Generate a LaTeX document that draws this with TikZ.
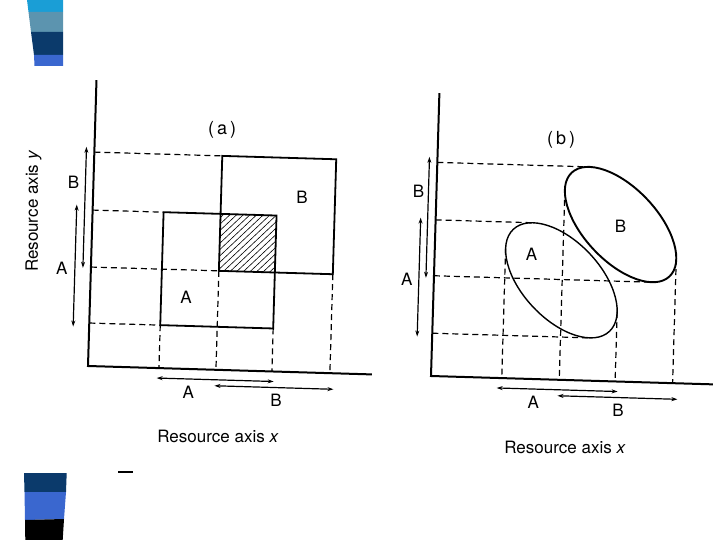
\documentclass[tikz,border=0pt]{standalone}
\usepackage{fontspec}
\setmainfont{TeX Gyre Heros}
\usetikzlibrary{arrows.meta}
\definecolor{barcyan}{HTML}{1A9ED6}
\definecolor{barsteel}{HTML}{5C94AF}
\definecolor{barnavy}{HTML}{0B3A6B}
\definecolor{barblue}{HTML}{3A67CF}
\begin{document}
\begin{tikzpicture}[x=1pt,y=1pt,
  axisline/.style={line width=2pt},
  boxline/.style={line width=1.8pt},
  projline/.style={line width=1.2pt, dash pattern=on 6pt off 4pt},
  spanline/.style={line width=1.2pt, {Stealth[length=6pt,width=4pt]}-{Stealth[length=6pt,width=4pt]}},
  hatchline/.style={line width=0.6pt},
  lbl/.style={font=\fontsize{17}{19}\selectfont, inner sep=0pt},
  ttl/.style={font=\fontsize{18}{20}\selectfont, inner sep=0pt},
  axlbl/.style={font=\fontsize{17}{19}\selectfont, inner sep=0pt},
]
\useasboundingbox (0,0) rectangle (720,-540);

% decorative bars, top left
\fill[barcyan]  (27,0) -- (63,0) -- (63,-12) -- (28.5,-12) -- cycle;
\fill[barsteel] (28.5,-12) -- (63,-12) -- (63,-32) -- (31,-32) -- cycle;
\fill[barnavy]  (31,-32) -- (63,-32) -- (63,-55) -- (34,-55) -- cycle;
\fill[barblue]  (34,-55) -- (63,-55) -- (63,-66) -- (34.5,-66) -- cycle;
% decorative bars, bottom left
\fill[barnavy]  (24,-473) -- (66.7,-473) -- (66,-492) -- (24.5,-492) -- cycle;
\fill[barblue]  (24.5,-492) -- (66,-492) -- (64,-519) -- (25,-520) -- cycle;
\fill[black]    (25,-520) -- (64,-519) -- (62.7,-540) -- (25.3,-540) -- cycle;
\draw[line width=1.2pt] (118,-472) -- (133,-472);

% ---------------- panel (a) ----------------
\begin{scope}[shift={(88,-366)}, rotate=-1.7]
  % hatched overlap
  \begin{scope}
    \clip (128,99) rectangle (184,156);
    \foreach \s in {-60,-53.5,...,60}
      \draw[hatchline] (128+\s,99) -- ++(60,60);
  \end{scope}
  % projections
  \draw[projline] (0,214) -- (128,214);
  \draw[projline] (0,156) -- (71,156);
  \draw[projline] (0,99) -- (128,99);
  \draw[projline] (0,43) -- (71,43);
  \draw[projline] (71,43) -- (71,0);
  \draw[projline] (128,99) -- (128,0);
  \draw[projline] (184,43) -- (184,0);
  \draw[projline] (242,99) -- (242,0);
  % niches
  \draw[boxline] (71,43) rectangle (184,156);
  \draw[boxline] (128,99) rectangle (242,214);
  % axes
  \draw[axisline] (0,286) -- (0,0) -- (284,0);
  % spans
  \draw[spanline] (-8,219) -- (-8,98);
  \draw[spanline] (-16,161) -- (-16,39);
  \draw[spanline] (69,-10) -- (186,-10);
  \draw[spanline] (127,-16) -- (246,-16);
  % labels
  \node[ttl] (a-title) at (127,240) {(\,a\,)};
  \node[lbl] (a-yB) at (-20,183) {B};
  \node[lbl] (a-yA) at (-29,97) {A};
  \node[lbl] (a-xA) at (101,-23) {A};
  \node[lbl] (a-xB) at (189,-29) {B};
  \node[lbl] (a-boxB) at (209,175) {B};
  \node[lbl] (a-boxA) at (96,72) {A};
  \node[axlbl] (a-xlab) at (132,-67) {Resource axis \textit{x}};
  \node[axlbl, rotate=90] (a-ylab) at (-59,153) {Resource axis \textit{y}};
\end{scope}

% ---------------- panel (b) ----------------
\begin{scope}[shift={(431,-376)}, rotate=-1.7]
  % projections
  \draw[projline] (0,213.7) -- (152,213.7);
  \draw[projline] (0,156.2) -- (97.5,156.2);
  \draw[projline] (0,100.3) -- (218,100.3);
  \draw[projline] (0,42.8) -- (157.5,42.8);
  \draw[projline] (70.8,129.5) -- (70.8,0);
  \draw[projline] (128.3,190) -- (128.3,0);
  \draw[projline] (184.2,69.5) -- (184.2,0);
  \draw[projline] (241.7,124) -- (241.7,0);
  % niches
  \draw[line width=1.4pt, rotate around={-45:(127.5,99.5)}] (127.5,99.5) ellipse [x radius=70.1, y radius=38.9];
  \draw[line width=1.9pt, rotate around={-45:(185,157)}] (185,157) ellipse [x radius=71.3, y radius=36.7];
  % axes
  \draw[axisline] (0,283) -- (0,0) -- (282,0);
  % spans
  \draw[spanline] (-8,219) -- (-8,98);
  \draw[spanline] (-15,158) -- (-15,39);
  \draw[spanline] (66,-10) -- (187,-10);
  \draw[spanline] (127,-16) -- (247,-16);
  % labels
  \node[ttl] (b-title) at (123,240) {(\,b\,)};
  \node[lbl] (b-yB) at (-18,184) {B};
  \node[lbl] (b-yA) at (-27,96) {A};
  \node[lbl] (b-xA) at (103,-23) {A};
  \node[lbl] (b-xB) at (188,-29) {B};
  \node[lbl] (b-ellB) at (185,155) {B};
  \node[lbl] (b-ellA) at (97,125) {A};
  \node[axlbl] (b-xlab) at (136,-67) {Resource axis \textit{x}};
\end{scope}
\end{tikzpicture}
\end{document}
